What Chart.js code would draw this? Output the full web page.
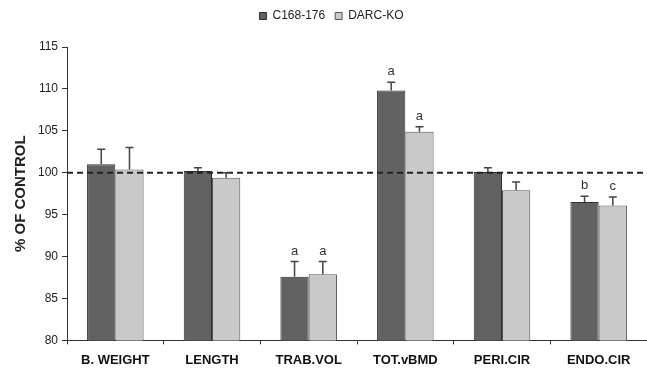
<!DOCTYPE html>
<html>
<head>
<meta charset="utf-8">
<script src="https://cdn.jsdelivr.net/npm/chart.js@4/dist/chart.umd.min.js"></script>
<style>
  html, body { margin: 0; padding: 0; background: #fff; }
  #wrap { width: 647px; height: 369px; }
</style>
</head>
<body>
<div id="wrap"><canvas id="boneChart" width="647" height="369"></canvas></div>
<script>
// Data (% of control)
const categories = ["B. WEIGHT", "LENGTH", "TRAB.VOL", "TOT.vBMD", "PERI.CIR", "ENDO.CIR"];
const c168Values = [101.0, 100.2, 87.6, 109.8, 100.1, 96.5];
const c168Errors = [1.8, 0.4, 1.8, 1.0, 0.5, 0.7];
const darcValues = [100.4, 99.4, 87.9, 104.9, 97.9, 96.1];
const darcErrors = [2.6, 0.6, 1.5, 0.6, 1.0, 1.0];
const c168Marks = ["", "", "a", "a", "", "b"];
const darcMarks = ["", "", "a", "a", "", "c"];
const yTicks = [80, 85, 90, 95, 100, 105, 110, 115];

const errors = [c168Errors, darcErrors];
const marks = [c168Marks, darcMarks];
const fontFam = '"Liberation Sans", Arial, sans-serif';

// extra room under the legend
const legendGap = {
    id: 'legendGap',
    beforeInit(chart) {
        const fit = chart.legend.fit;
        chart.legend.fit = function () {
            fit.bind(chart.legend)();
            this.height += 15;
        };
    }
};

// error bars (upper half only) plus significance letters
const errorBarPlugin = {
    id: 'errorBars',
    afterDatasetsDraw(chart) {
        const ctx = chart.ctx;
        const y = chart.scales.y;
        ctx.save();
        chart.data.datasets.forEach((ds, di) => {
            const meta = chart.getDatasetMeta(di);
            meta.data.forEach((bar, i) => {
                const top = y.getPixelForValue(ds.data[i] + errors[di][i]);
                const x = bar.x;
                ctx.strokeStyle = '#444';
                ctx.lineWidth = 1.5;
                ctx.beginPath();
                ctx.moveTo(x, bar.y);
                ctx.lineTo(x, top);
                ctx.moveTo(x - 4, top);
                ctx.lineTo(x + 4, top);
                ctx.stroke();
                if (marks[di][i]) {
                    ctx.fillStyle = '#333';
                    ctx.font = '13px ' + fontFam;
                    ctx.textAlign = 'center';
                    ctx.textBaseline = 'bottom';
                    ctx.fillText(marks[di][i], x, top - 4);
                }
            });
        });
        ctx.restore();
    }
};

// dashed reference line at 100 %
const controlLinePlugin = {
    id: 'controlLine',
    afterDatasetsDraw(chart) {
        const ctx = chart.ctx;
        const yp = chart.scales.y.getPixelForValue(100);
        ctx.save();
        ctx.strokeStyle = '#222';
        ctx.lineWidth = 2;
        ctx.setLineDash([6, 4]);
        ctx.beginPath();
        ctx.moveTo(chart.chartArea.left, yp);
        ctx.lineTo(chart.chartArea.right, yp);
        ctx.stroke();
        ctx.restore();
    }
};

const ctx = document.getElementById('boneChart').getContext('2d');
new Chart(ctx, {
    type: 'bar',
    data: {
        labels: categories,
        datasets: [{
            label: 'C168-176',
            data: c168Values,
            backgroundColor: '#626262',
            borderColor: '#2e2e2e',
            borderWidth: 1,
            borderSkipped: 'bottom',
            barPercentage: 1.0,
            categoryPercentage: 0.585
        }, {
            label: 'DARC-KO',
            data: darcValues,
            backgroundColor: '#c9c9c9',
            borderColor: '#555',
            borderWidth: 1,
            borderSkipped: 'bottom',
            barPercentage: 1.0,
            categoryPercentage: 0.585
        }]
    },
    options: {
        responsive: false,
        animation: false,
        layout: {
            padding: { top: 0, right: -4, bottom: -7, left: 12 }
        },
        plugins: {
            legend: {
                display: true,
                position: 'top',
                labels: {
                    boxWidth: 7,
                    boxHeight: 7,
                    padding: 10,
                    color: '#222',
                    font: { family: fontFam, size: 12 }
                }
            },
            tooltip: { enabled: false }
        },
        scales: {
            y: {
                min: 80,
                max: 115,
                afterBuildTicks: (axis) => {
                    axis.ticks = yTicks.map(v => ({ value: v }));
                },
                ticks: {
                    color: '#222',
                    padding: 4,
                    font: { family: fontFam, size: 12 }
                },
                grid: {
                    display: true,
                    drawOnChartArea: false,
                    drawTicks: true,
                    tickLength: 5,
                    color: '#333'
                },
                border: { color: '#333', width: 1 },
                title: {
                    display: true,
                    text: '% OF CONTROL',
                    color: '#222',
                    padding: { top: 0, bottom: 4 },
                    font: { family: fontFam, size: 15, weight: 'bold' }
                }
            },
            x: {
                ticks: {
                    color: '#111',
                    padding: 8,
                    font: { family: fontFam, size: 13, weight: 'bold' }
                },
                grid: {
                    display: true,
                    offset: true,
                    drawOnChartArea: false,
                    drawTicks: true,
                    tickLength: 4,
                    color: '#333'
                },
                border: { color: '#333', width: 1 }
            }
        }
    },
    plugins: [legendGap, controlLinePlugin, errorBarPlugin]
});
</script>
</body>
</html>
